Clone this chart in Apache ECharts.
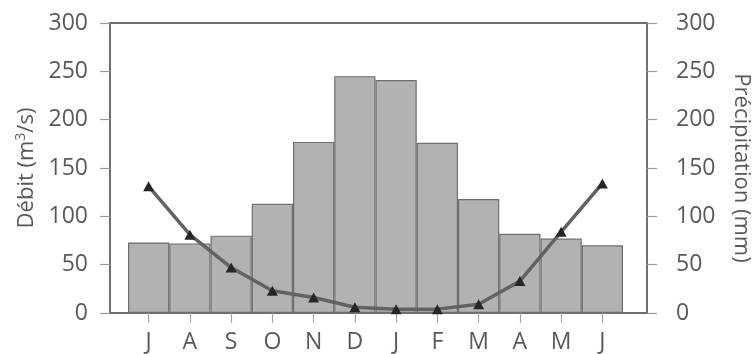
<!DOCTYPE html>
<html>
<head>
<meta charset="utf-8">
<script src="https://cdn.jsdelivr.net/npm/echarts@6/dist/echarts.min.js"></script>
<style>html,body{margin:0;padding:0;background:#fff}#c{width:755px;height:354px}</style>
</head>
<body>
<div id="c"></div>
<script>
var months = ['J','A','S','O','N','D','J','F','M','A','M','J'];
var debit = [73, 72, 80, 113, 177, 245, 241, 176, 118, 82, 77, 70];
var precipitation = [131, 81, 47, 23, 16, 6, 4, 4, 9, 33, 84, 134];
var yTicks = [0, 50, 100, 150, 200, 250, 300];

var FONT = '"Open Sans", sans-serif';
var LBL = '#595959';
var chart = echarts.init(document.getElementById('c'));
var yMin = yTicks[0], yMax = yTicks[yTicks.length - 1], yStep = yTicks[1] - yTicks[0];

chart.setOption({
  animation: false,
  grid: [
    {left: 110, right: 108, top: 23, bottom: 41, containLabel: false, outerBoundsMode: 'none', show: true, borderColor: '#6f6f6f', borderWidth: 1.8, backgroundColor: 'transparent'},
    {left: 128, right: 132, top: 23, bottom: 41, containLabel: false, outerBoundsMode: 'none'}
  ],
  xAxis: [
    {type: 'value', gridIndex: 0, show: false, min: 0, max: 1},
    {type: 'category', gridIndex: 1, data: months,
     axisLine: {show: false},
     axisTick: {show: true, alignWithLabel: true, length: 10, lineStyle: {color: '#a6a6a6', width: 1.2}},
     axisLabel: {color: LBL, fontFamily: FONT, fontSize: 23, margin: 18}}
  ],
  yAxis: [
    {type: 'value', gridIndex: 0, position: 'left', min: yMin, max: yMax, interval: yStep,
     name: '{a|Débit (m}{s|3}{a|/s)}', nameLocation: 'middle', nameGap: 70, nameRotate: 90,
     nameTextStyle: {rich: {a: {fontFamily: FONT, fontSize: 22, color: LBL}, s: {fontFamily: FONT, fontSize: 14, color: LBL, padding: [0, 0, 12, 0]}}},
     axisLine: {show: true, lineStyle: {color: '#6f6f6f', width: 1.8}},
     axisTick: {show: true, length: 10, lineStyle: {color: '#9a9a9a', width: 1.2}},
     axisLabel: {color: LBL, fontFamily: FONT, fontSize: 23, margin: 22},
     splitLine: {show: false}},
    {type: 'value', gridIndex: 0, position: 'right', min: yMin, max: yMax, interval: yStep,
     name: 'Précipitation (mm)', nameLocation: 'middle', nameGap: 83, nameRotate: -90,
     nameTextStyle: {fontFamily: FONT, fontSize: 22, color: LBL},
     axisLine: {show: true, lineStyle: {color: '#6f6f6f', width: 1.8}},
     axisTick: {show: true, length: 10, lineStyle: {color: '#9a9a9a', width: 1.2}},
     axisLabel: {color: LBL, fontFamily: FONT, fontSize: 23, margin: 29},
     splitLine: {show: false}},
    {type: 'value', gridIndex: 1, position: 'left', min: yMin, max: yMax, show: false, splitLine: {show: false}},
    {type: 'value', gridIndex: 1, position: 'right', min: yMin, max: yMax, show: false, splitLine: {show: false}}
  ],
  series: [
    {type: 'bar', name: 'Débit', xAxisIndex: 1, yAxisIndex: 2, data: debit,
     barCategoryGap: '0%', barGap: '0%',
     itemStyle: {color: '#b2b2b2', borderColor: '#6f6f6f', borderWidth: 1.2}},
    {type: 'line', name: 'Précipitation', xAxisIndex: 1, yAxisIndex: 3, data: precipitation,
     symbol: 'triangle', symbolSize: [11, 10],
     lineStyle: {color: '#626262', width: 3.5},
     itemStyle: {color: '#262626'}, z: 5}
  ]
});
</script>
</body>
</html>
